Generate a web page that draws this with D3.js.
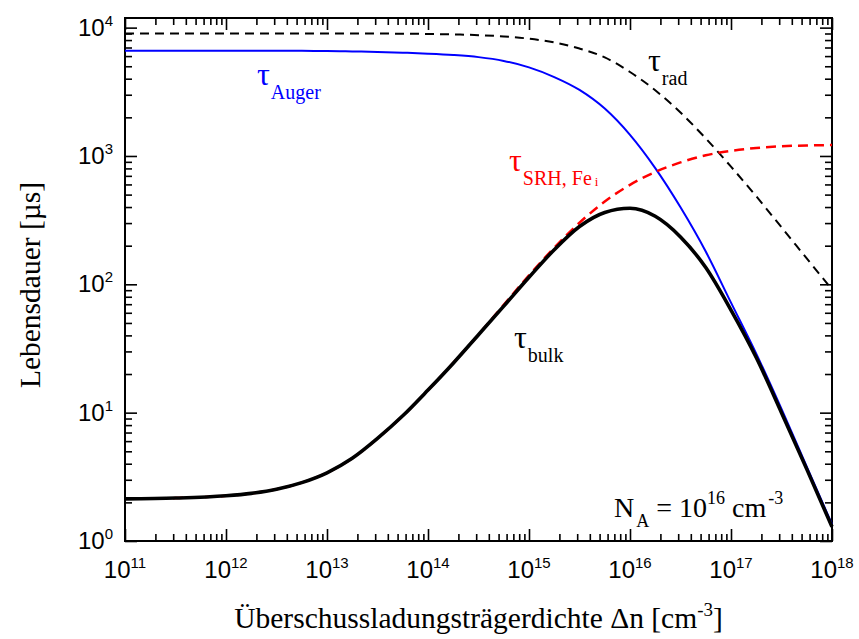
<!DOCTYPE html>
<html>
<head>
<meta charset="utf-8">
<script src="https://cdn.jsdelivr.net/npm/d3@7"></script>
<style>
  body { margin: 0; background: #fff; }
  svg { display: block; }
</style>
</head>
<body>
<div id="chart"></div>
<script>
// excess carrier density, log10(cm^-3)
var logDn = [11, 11.5, 12, 12.25, 12.5, 12.75, 13, 13.25, 13.5, 13.75, 14, 14.25, 14.5, 14.75,
  15, 15.25, 15.5, 15.75, 16, 16.25, 16.5, 16.75, 17, 17.25, 17.5, 17.75, 18]

// lifetimes in µs
var tauRad = [9020, 9020, 9020, 9020, 9020, 9015, 9010, 9000, 8990, 8970, 8930, 8850, 8740, 8530,
  8200, 7660, 6870, 5860, 4510, 3250, 2180, 1370, 825, 485, 278, 159, 91]
var tauAuger = [6610, 6610, 6610, 6610, 6610, 6590, 6580, 6530, 6470, 6380, 6270, 6120, 5890, 5500,
  4900, 4120, 3270, 2340, 1460, 804, 398, 180, 72, 28.8, 10.7, 3.8, 1.35]
var tauSRH = [2.13, 2.16, 2.25, 2.35, 2.53, 2.85, 3.4, 4.41, 6.3, 9.45, 15.0, 24.4, 40.6, 69.2,
  117.5, 193, 302, 442, 596, 750, 891, 1012, 1096, 1153, 1189, 1208, 1216]
var tauBulk = [2.13, 2.16, 2.25, 2.35, 2.53, 2.85, 3.4, 4.41, 6.3, 9.45, 15.0, 24.3, 40.5, 67.6,
  113.5, 186, 282, 363, 391, 339, 234, 135, 63, 26.9, 10.0, 3.63, 1.29]

var xTickExp = [11, 12, 13, 14, 15, 16, 17, 18]
var yTickExp = [0, 1, 2, 3, 4]

var width = 859, height = 639
var margin = { top: 18, right: 27, bottom: 98, left: 125 }
var w = width - margin.left - margin.right
var h = height - margin.top - margin.bottom

var svg = d3.select('#chart').append('svg')
  .attr('width', width)
  .attr('height', height)

var g = svg.append('g')
  .attr('transform', 'translate(' + margin.left + ',' + margin.top + ')')

var x = d3.scaleLog().domain([1e11, 1e18]).range([0, w])
var y = d3.scaleLog().domain([1, Math.pow(10, 4.075)]).range([h, 0])

var xMajor = xTickExp.map(function(e) { return Math.pow(10, e) })
var yMajor = yTickExp.map(function(e) { return Math.pow(10, e) })
var xMinor = [], yMinor = []
for (var i = 0; i < xTickExp.length - 1; i++) {
  for (var k = 2; k < 10; k++) xMinor.push(k * Math.pow(10, xTickExp[i]))
}
for (var i = 0; i < yTickExp.length; i++) {
  for (var k = 2; k < 10; k++) {
    var v = k * Math.pow(10, yTickExp[i])
    if (v <= y.domain()[1]) yMinor.push(v)
  }
}

function tickAxis(axisFn, scale, values, size) {
  return axisFn(scale).tickValues(values).tickSize(-size).tickFormat('')
}

// inward ticks on all four sides
var axes = [
  { fn: d3.axisBottom, s: x, t: 'translate(0,' + h + ')' },
  { fn: d3.axisTop, s: x, t: 'translate(0,0)' },
  { fn: d3.axisLeft, s: y, t: 'translate(0,0)' },
  { fn: d3.axisRight, s: y, t: 'translate(' + w + ',0)' },
]
axes.forEach(function(a) {
  var isX = a.s === x
  ;[[isX ? xMajor : yMajor, 12], [isX ? xMinor : yMinor, 7]].forEach(function(p) {
    var ax = g.append('g')
      .attr('transform', a.t)
      .call(tickAxis(a.fn, a.s, p[0], p[1]))
    ax.select('.domain').remove()
    ax.selectAll('line').attr('stroke', '#000').attr('stroke-width', 1.6)
  })
})

g.append('rect')
  .attr('width', w)
  .attr('height', h)
  .attr('fill', 'none')
  .attr('stroke', '#000')
  .attr('stroke-width', 2)

// tick labels 10^n
var labelFont = "'Liberation Sans', Arial, sans-serif"
xTickExp.forEach(function(e) {
  var t = g.append('text')
    .attr('x', x(Math.pow(10, e)))
    .attr('y', h + 37)
    .attr('text-anchor', 'middle')
    .style('font-family', labelFont)
    .style('font-size', '24px')
  t.append('tspan').text('10')
  t.append('tspan').attr('dy', -10).style('font-size', '15px').text(e)
})
yTickExp.forEach(function(e) {
  var t = g.append('text')
    .attr('x', -12)
    .attr('y', y(Math.pow(10, e)) + 8)
    .attr('text-anchor', 'end')
    .style('font-family', labelFont)
    .style('font-size', '24px')
  t.append('tspan').text('10')
  t.append('tspan').attr('dy', -10).style('font-size', '15px').text(e)
})

// axis titles
var serif = "'Liberation Serif', 'Times New Roman', serif"
var xt = svg.append('text')
  .attr('x', margin.left + w / 2)
  .attr('y', 628)
  .attr('text-anchor', 'middle')
  .style('font-family', serif)
  .style('font-size', '29.5px')
xt.append('tspan').text('Überschussladungsträgerdichte Δn [cm')
xt.append('tspan').attr('dy', -12).style('font-size', '19px').text('-3')
xt.append('tspan').attr('dy', 12).text(']')

svg.append('text')
  .attr('transform', 'translate(40,285) rotate(-90)')
  .attr('text-anchor', 'middle')
  .style('font-family', serif)
  .style('font-size', '29.5px')
  .text('Lebensdauer [µs]')

// curves
var line = d3.line()
  .curve(d3.curveMonotoneX)
  .x(function(d) { return x(Math.pow(10, d[0])) })
  .y(function(d) { return y(d[1]) })

function series(vals) {
  return logDn.map(function(e, i) { return [e, vals[i]] })
}

var plot = g.append('g')
plot.append('path')
  .attr('d', line(series(tauRad)))
  .attr('fill', 'none')
  .attr('stroke', '#000')
  .attr('stroke-width', 2)
  .attr('stroke-dasharray', '9,6')
plot.append('path')
  .attr('d', line(series(tauAuger)))
  .attr('fill', 'none')
  .attr('stroke', '#0000ff')
  .attr('stroke-width', 2)
plot.append('path')
  .attr('d', line(series(tauSRH)))
  .attr('fill', 'none')
  .attr('stroke', '#ff0000')
  .attr('stroke-width', 2.5)
  .attr('stroke-dasharray', '10,6')
plot.append('path')
  .attr('d', line(series(tauBulk)))
  .attr('fill', 'none')
  .attr('stroke', '#000')
  .attr('stroke-width', 3.6)

// curve labels
function tauLabel(px, py, color, sub, subsub) {
  var t = svg.append('text')
    .attr('x', px)
    .attr('y', py)
    .attr('fill', color)
    .style('font-family', serif)
    .style('font-size', '32px')
  t.append('tspan').text('τ')
  t.append('tspan').attr('dy', 14).attr('dx', 1).style('font-size', '20px').text(sub)
  if (subsub) {
    t.append('tspan').attr('dy', 1).attr('dx', 3).style('font-size', '13px').text(subsub)
  }
}
tauLabel(257, 85, '#0000ff', 'Auger')
tauLabel(648, 71, '#000', 'rad')
tauLabel(509, 171, '#ff0000', 'SRH, Fe', 'i')
tauLabel(514, 348, '#000', 'bulk')

var na = svg.append('text')
  .attr('x', 614)
  .attr('y', 517)
  .style('font-family', serif)
  .style('font-size', '28px')
na.append('tspan').text('N')
na.append('tspan').attr('dy', 10).attr('dx', 2).style('font-size', '18px').text('A')
na.append('tspan').attr('dy', -10).text(' = 10')
na.append('tspan').attr('dy', -13).style('font-size', '18px').text('16')
na.append('tspan').attr('dy', 13).text(' cm')
na.append('tspan').attr('dy', -13).attr('dx', 2).style('font-size', '18px').text('-3')
</script>
</body>
</html>
